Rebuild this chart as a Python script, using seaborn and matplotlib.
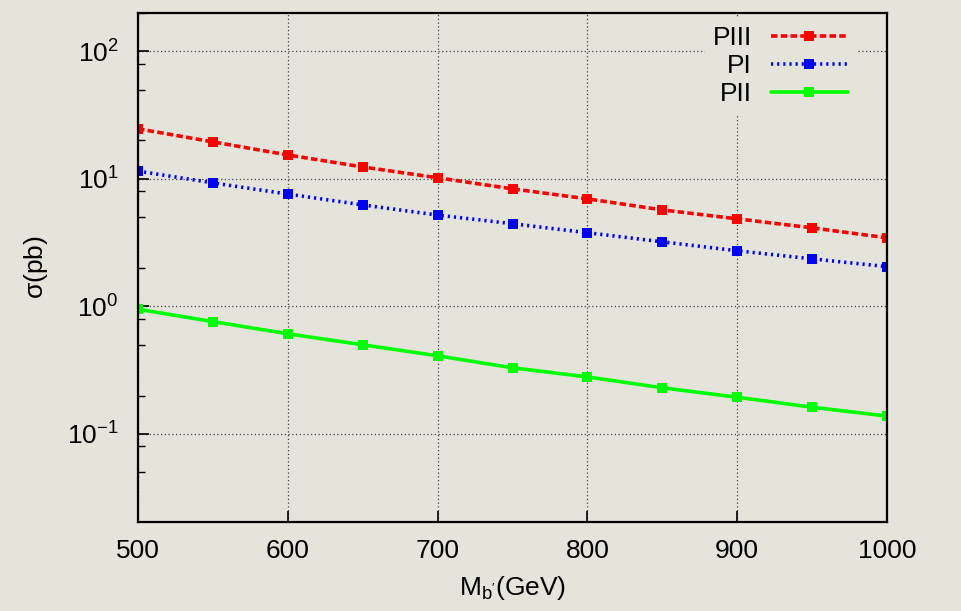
import numpy as np
import pandas as pd
import matplotlib
matplotlib.use('Agg')
import matplotlib.pyplot as plt
from matplotlib.ticker import LogLocator, NullFormatter
import seaborn as sns

# masses (GeV)
mass = [500, 550, 600, 650, 700, 750, 800, 850, 900, 950, 1000]

# cross sections (pb)
sigma_PIII = [24.7, 19.5, 15.4, 12.4, 10.2, 8.35, 6.97, 5.71, 4.86, 4.13, 3.45]
sigma_PI = [11.5, 9.3, 7.6, 6.25, 5.2, 4.45, 3.78, 3.21, 2.73, 2.36, 2.05]
sigma_PII = [0.95, 0.76, 0.61, 0.50, 0.41, 0.33, 0.28, 0.23, 0.194, 0.162, 0.138]

labels = ['PIII', 'PI', 'PII']
colors = ['#ff0000', '#0000ff', '#00ff00']
styles = [(0, (1.8, 0.9)), (0, (0.6, 1.1)), '-']

bg = '#e5e4db'

sns.set_theme(style='ticks')
plt.rcParams['font.family'] = ['Liberation Sans', 'DejaVu Sans']
plt.rcParams['mathtext.fontset'] = 'custom'
plt.rcParams['mathtext.rm'] = 'Liberation Sans'
plt.rcParams['mathtext.it'] = 'Liberation Sans:italic'
plt.rcParams['text.color'] = 'black'
plt.rcParams['axes.labelcolor'] = 'black'
plt.rcParams['xtick.color'] = 'black'
plt.rcParams['ytick.color'] = 'black'

df = pd.DataFrame({
    'mass': mass * 3,
    'sigma': sigma_PIII + sigma_PI + sigma_PII,
    'model': ['PIII'] * len(mass) + ['PI'] * len(mass) + ['PII'] * len(mass),
})

fig = plt.figure(figsize=(9.61, 6.11), dpi=100, facecolor=bg)
ax = fig.add_axes([0.1436, 0.1457, 0.7794, 0.8331])
ax.set_facecolor(bg)

for lab, col, ls in zip(labels, colors, styles):
    sub = df[df['model'] == lab]
    sns.lineplot(data=sub, x='mass', y='sigma', ax=ax, color=col, linestyle=ls,
                 linewidth=2.6, marker='s', markersize=7, markeredgewidth=0,
                 label=lab)

ax.set_yscale('log')
ax.set_xlim(500, 1000)
ax.set_ylim(0.0204, 200)
ax.set_xticks([500, 600, 700, 800, 900, 1000])
ax.yaxis.set_major_locator(LogLocator(base=10, numticks=10))
ax.yaxis.set_minor_locator(LogLocator(base=10, subs=(2.0, 5.0, 8.0), numticks=20))
ax.yaxis.set_minor_formatter(NullFormatter())

ax.grid(True, which='major', linestyle=(0, (1, 2)), color='#444444', linewidth=0.9)
for s in ax.spines.values():
    s.set_color('black')
    s.set_linewidth(1.6)

ax.tick_params(axis='both', which='major', direction='in', length=8, width=1.2,
               labelsize=19, pad=12)
ax.tick_params(axis='y', which='minor', direction='in', length=5, width=1.0)
ax.tick_params(axis='y', which='major', pad=14)

ax.set_xlabel(r"M$_\mathregular{b'}$(GeV)", fontsize=19, labelpad=8)
ax.set_ylabel(r'$\mathregular{\sigma}$(pb)', fontsize=19, labelpad=12)

leg = ax.legend(loc='upper right', markerfirst=False, frameon=True, fancybox=False,
                facecolor=bg, edgecolor=bg, framealpha=1.0,
                fontsize=19, handlelength=2.95, handletextpad=0.7,
                labelspacing=0.15, borderpad=0.3, borderaxespad=0.0,
                bbox_to_anchor=(0.959, 0.99))

fig.savefig('out.png', dpi=100, facecolor=bg)
